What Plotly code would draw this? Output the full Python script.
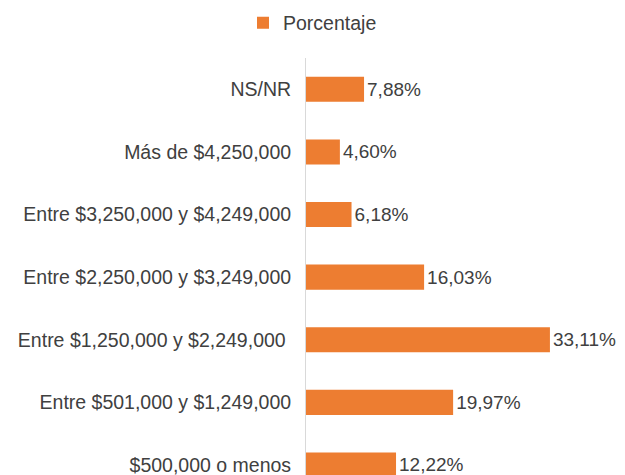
import plotly.graph_objects as go

categories = [
    "$500,000 o menos",
    "Entre $501,000 y $1,249,000",
    "Entre $1,250,000 y $2,249,000\u00a0",
    "Entre $2,250,000 y $3,249,000",
    "Entre $3,250,000 y $4,249,000",
    "Más de $4,250,000",
    "NS/NR",
]
porcentaje = [12.22, 19.97, 33.11, 16.03, 6.18, 4.60, 7.88]
series_name = "Porcentaje"

ORANGE = "#ED7D31"
TEXT = "#404040"
FONT = "Liberation Sans, Arial, sans-serif"
FS = 19.5

# page body adds an 8px offset; size the figure to fill the rest of the window
W, H = 617, 467

fig = go.Figure(
    go.Bar(
        x=porcentaje,
        y=categories,
        orientation="h",
        name=series_name,
        marker=dict(color=ORANGE, line=dict(width=0)),
        texttemplate="%{x:.2f}%",
        textposition="outside",
        constraintext="none",
        textfont=dict(family=FONT, size=19, color=TEXT),
        cliponaxis=False,
        showlegend=True,
    )
)

fig.update_layout(
    width=W,
    height=H,
    margin=dict(l=298, r=0, t=50, b=0, autoexpand=False),
    paper_bgcolor="white",
    plot_bgcolor="white",
    separators=",.",
    bargap=0.6,
    font=dict(family=FONT, size=FS, color=TEXT),
    showlegend=True,
    legend=dict(
        orientation="h",
        xref="container",
        yref="container",
        x=235 / W,
        y=1 - 15 / H,
        xanchor="left",
        yanchor="middle",
        font=dict(family=FONT, size=FS, color=TEXT),
        itemwidth=30,
        bgcolor="rgba(0,0,0,0)",
    ),
    xaxis=dict(
        range=[0, 43.3],
        visible=False,
        showgrid=False,
        zeroline=False,
        automargin=False,
    ),
    yaxis=dict(
        type="category",
        categoryorder="array",
        categoryarray=categories,
        range=[-0.16, 6.5],
        showline=True,
        linecolor="#D9D9D9",
        linewidth=1,
        ticks="",
        showgrid=False,
        automargin=False,
        ticklabelstandoff=10,
        tickfont=dict(family=FONT, size=FS, color=TEXT),
    ),
)

fig.write_html("out.html")
